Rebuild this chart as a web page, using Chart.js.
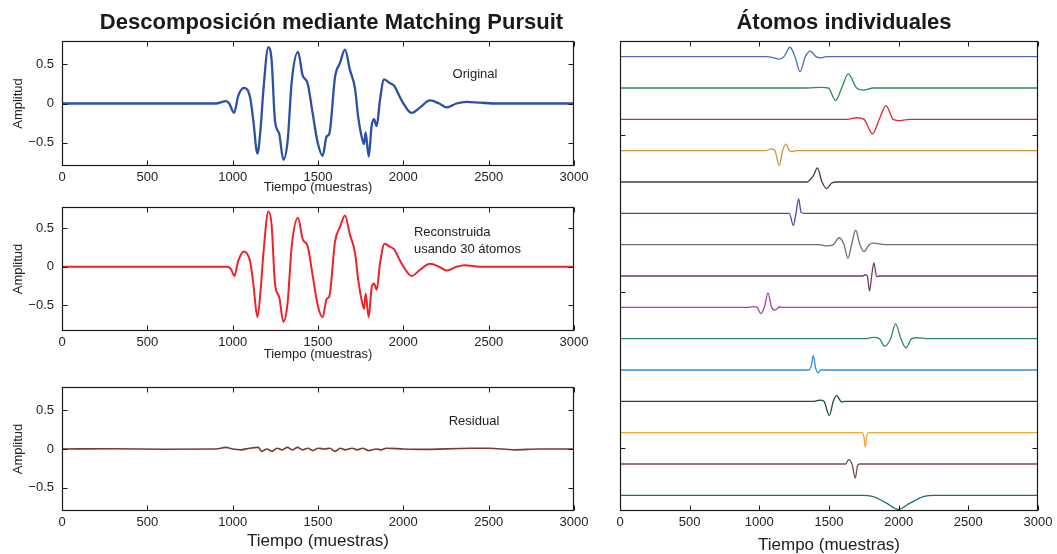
<!DOCTYPE html>
<html>
<head>
<meta charset="utf-8">
<script src="https://cdn.jsdelivr.net/npm/chart.js@4.4.0/dist/chart.umd.min.js"></script>
<style>
  html, body { margin: 0; padding: 0; background: #fff; overflow: hidden; width: 1057px; height: 554px; }
  canvas { position: absolute; }
</style>
</head>
<body>
<canvas id="chartOriginal" width="664" height="200" style="left:0;top:0"></canvas>
<canvas id="chartRecon" width="664" height="161" style="left:0;top:200px"></canvas>
<canvas id="chartResidual" width="664" height="184" style="left:0;top:370px"></canvas>
<canvas id="chartAtoms" width="470" height="554" style="left:600px;top:0"></canvas>
<script>
// ====== Data ======
const timeTicks = [0, 500, 1000, 1500, 2000, 2500, 3000];
const ampTicks = [-0.5, 0, 0.5];
const atomTicks = [-12.5, -7.5, -2.5];

// [time, amplitude]
const originalSignal = [
  [0, 0], [900, 0], [961, 0.03], [980, 0], [1008, -0.12], [1033, 0.10], [1066, 0.20],
  [1102, 0.08], [1121, -0.22], [1145, -0.64], [1164, -0.31], [1180, 0.17], [1209, 0.72],
  [1228, 0.56], [1248, -0.22], [1273, -0.39], [1297, -0.72], [1322, -0.48], [1346, 0.28],
  [1383, 0.66], [1410, 0.36], [1439, 0.26], [1469, -0.13], [1498, -0.50], [1527, -0.67],
  [1551, -0.42], [1566, -0.39], [1600, 0.34], [1629, 0.52], [1658, 0.69], [1687, 0.43],
  [1717, 0.19], [1736, -0.18], [1762, -0.48], [1770, -0.52], [1779, -0.37], [1797, -0.68],
  [1814, -0.29], [1828, -0.20], [1844, -0.29], [1863, 0.04], [1887, 0.31], [1922, 0.26],
  [1945, 0.23], [1990, 0.04], [2049, -0.12], [2098, -0.05], [2156, 0.04], [2210, 0],
  [2254, -0.05], [2312, 0], [2370, 0.02], [2450, 0.01], [2550, 0], [3000, 0]
];

const reconstructed = [
  [0, 0], [970, 0], [990, -0.03], [1010, -0.12], [1033, 0.08], [1066, 0.20],
  [1102, 0.07], [1121, -0.22], [1145, -0.66], [1164, -0.30], [1180, 0.17], [1209, 0.72],
  [1228, 0.55], [1248, -0.22], [1273, -0.40], [1297, -0.72], [1322, -0.47], [1346, 0.27],
  [1383, 0.64], [1410, 0.36], [1439, 0.27], [1469, -0.12], [1498, -0.50], [1527, -0.66],
  [1551, -0.42], [1566, -0.39], [1600, 0.33], [1629, 0.52], [1658, 0.67], [1687, 0.42],
  [1717, 0.18], [1736, -0.18], [1762, -0.50], [1770, -0.55], [1779, -0.35], [1797, -0.66],
  [1814, -0.28], [1828, -0.22], [1844, -0.30], [1863, 0.04], [1890, 0.30], [1922, 0.26],
  [1945, 0.23], [1990, 0.04], [2049, -0.12], [2098, -0.04], [2156, 0.04], [2210, 0],
  [2254, -0.05], [2312, 0], [2360, 0.02], [2450, 0], [3000, 0]
];

const residual = [
  [0, 0], [300, 0.003], [600, -0.003], [900, 0], [960, 0.02], [1000, 0], [1050, -0.01],
  [1100, 0.01], [1150, 0.02], [1170, -0.03], [1200, 0], [1230, -0.03], [1260, 0.01],
  [1290, -0.01], [1320, 0.02], [1350, -0.01], [1380, 0.02], [1410, -0.01], [1440, 0.01],
  [1470, -0.02], [1500, 0.01], [1540, 0], [1570, 0.01], [1600, -0.03], [1630, 0.01],
  [1660, -0.01], [1700, 0.01], [1730, -0.01], [1760, 0.01], [1800, -0.02], [1840, 0],
  [1870, -0.01], [1900, 0.01], [2000, 0], [2100, -0.005], [2400, 0.01], [2500, 0.01],
  [2650, -0.01], [2800, 0], [3000, 0]
];

// individual atoms, top to bottom
const atom01 = [[0, 0], [1050, 0], [1090, -0.02], [1143, -0.08], [1177, 0], [1220, 0.30], [1256, 0], [1292, -0.48], [1330, 0], [1366, 0.18], [1407, 0], [1435, -0.04], [1483, 0], [3000, 0]];
const atom02 = [[0, 0], [1340, 0], [1447, 0.02], [1495, 0], [1548, -0.40], [1591, 0], [1638, 0.45], [1698, 0], [1746, -0.07], [1818, 0], [3000, 0]];
const atom03 = [[0, 0], [1626, 0], [1698, 0.05], [1751, 0], [1813, -0.46], [1861, 0], [1909, 0.44], [1961, 0], [2009, -0.04], [2081, 0], [3000, 0]];
const atom04 = [[0, 0], [1041, 0], [1088, 0.06], [1112, 0], [1143, -0.48], [1167, 0], [1191, 0.21], [1215, 0], [1232, -0.03], [1268, 0], [3000, 0]];
const atom05 = [[0, 0], [1340, 0], [1390, 0.22], [1416, 0.45], [1450, 0], [1483, -0.21], [1520, -0.03], [1555, 0], [3000, 0]];
const atom06 = [[0, 0], [1215, 0], [1244, -0.39], [1263, 0], [1282, 0.46], [1300, 0.03], [1320, 0], [3000, 0]];
const atom07 = [[0, 0], [1428, 0], [1483, -0.04], [1531, 0], [1572, 0.22], [1608, 0], [1636, -0.44], [1662, 0], [1691, 0.46], [1722, 0], [1751, -0.22], [1789, 0], [1823, 0.05], [1901, 0], [3000, 0]];
const atom08 = [[0, 0], [1741, 0], [1760, 0.04], [1775, 0], [1791, -0.48], [1806, 0], [1822, 0.42], [1842, -0.02], [1861, 0], [3000, 0]];
const atom09 = [[0, 0], [909, 0], [957, 0.02], [985, 0], [1010, -0.20], [1036, 0], [1062, 0.46], [1088, 0], [1112, -0.09], [1143, 0.01], [1172, 0], [3000, 0]];
const atom10 = [[0, 0], [1758, 0], [1818, 0.04], [1861, 0], [1901, -0.24], [1942, 0], [1978, 0.47], [2016, 0], [2052, -0.29], [2093, 0], [2129, 0.03], [2200, 0], [3000, 0]];
const atom11 = [[0, 0], [1355, 0], [1373, 0.14], [1387, 0.46], [1403, 0.08], [1421, -0.09], [1440, 0], [3000, 0]];
const atom12 = [[0, 0], [1392, 0], [1435, 0.04], [1464, 0], [1502, -0.45], [1531, 0], [1555, 0.18], [1591, -0.02], [1614, 0], [3000, 0]];
const atom13 = [[0, 0], [1738, 0], [1750, -0.12], [1760, -0.46], [1770, -0.12], [1782, 0], [3000, 0]];
const atom14 = [[0, 0], [1620, 0], [1641, 0.14], [1665, 0], [1689, -0.45], [1705, -0.05], [1720, 0], [3000, 0]];
const atom15 = [[0, 0], [1732, 0], [1818, -0.04], [1913, -0.25], [1997, -0.45], [2081, -0.25], [2177, -0.04], [2260, 0], [3000, 0]];

const atoms = [atom01, atom02, atom03, atom04, atom05, atom06, atom07, atom08,
               atom09, atom10, atom11, atom12, atom13, atom14, atom15];
const atomColors = ["#4b6dc0", "#2b8b52", "#e8262a", "#c9973f", "#4d3838", "#5b3fa3", "#6e6e6e", "#6e3a6e",
                    "#a63ea6", "#2e8d5e", "#2f8fe0", "#1f4d38", "#f9a430", "#7b4a4a", "#1f6b6b"];

// ====== Fonts ======
const FONT = "'Liberation Sans', Arial, Helvetica, sans-serif";
Chart.defaults.font.family = FONT;
Chart.defaults.color = "#222";

// ====== Plugins ======
// MATLAB style box with inward tick marks on every side
const frameTicks = {
  id: "frameTicks",
  afterDatasetsDraw(chart, args, opts) {
    const { ctx, chartArea: a, scales } = chart;
    const len = opts.len || 5;
    const L = Math.round(a.left) + 0.5, R = Math.round(a.right) - 0.5;
    const T = Math.round(a.top) + 0.5, B = Math.round(a.bottom) - 0.5;
    ctx.save();
    ctx.strokeStyle = "#1a1a1a";
    ctx.lineWidth = 1;
    ctx.beginPath();
    scales.x.ticks.forEach(t => {
      const px = Math.round(scales.x.getPixelForValue(t.value)) + 0.5;
      ctx.moveTo(px, B); ctx.lineTo(px, B - len);
      ctx.moveTo(px, T); ctx.lineTo(px, T + len);
    });
    scales.y.ticks.forEach(t => {
      const py = Math.round(scales.y.getPixelForValue(t.value)) + 0.5;
      ctx.moveTo(L, py); ctx.lineTo(L + len, py);
      ctx.moveTo(R, py); ctx.lineTo(R - len, py);
    });
    ctx.stroke();
    ctx.lineWidth = 1.2;
    ctx.strokeRect(L, T, R - L, B - T);
    ctx.restore();
  }
};

// text labels inside the axes, placed in data units
const noteText = {
  id: "noteText",
  afterDatasetsDraw(chart, args, opts) {
    if (!opts.lines) return;
    const { ctx, scales } = chart;
    ctx.save();
    ctx.font = "13px " + FONT;
    ctx.fillStyle = "#222";
    ctx.textAlign = opts.align || "center";
    ctx.textBaseline = "middle";
    opts.lines.forEach(l => {
      ctx.fillText(l.text, scales.x.getPixelForValue(l.x), scales.y.getPixelForValue(l.y));
    });
    ctx.restore();
  }
};

function fmtTick(v) {
  return v < 0 ? "\u2212" + Math.abs(v) : String(v);
}

function toXY(pairs, offset) {
  return pairs.map(([x, y]) => ({ x: x, y: y + (offset || 0) }));
}

// empty right-hand axis, only used to reserve room so the title sits where it does in the figure
function spacerAxis(width) {
  return {
    position: "right",
    display: true,
    ticks: { display: false },
    grid: { display: false, drawTicks: false },
    border: { display: false },
    afterFit: s => { s.width = width; }
  };
}

// ====== Left panels ======
function signalChart(id, series, color, width, cfg) {
  new Chart(document.getElementById(id), {
    type: "line",
    data: {
      datasets: [{
        data: toXY(series),
        borderColor: color,
        borderWidth: width,
        pointRadius: 0,
        cubicInterpolationMode: "monotone",
        fill: false
      }]
    },
    options: {
      responsive: false,
      animation: false,
      events: [],
      layout: { padding: { left: 10, right: 11, top: cfg.padTop, bottom: cfg.padBottom } },
      plugins: {
        legend: { display: false },
        tooltip: { enabled: false },
        title: cfg.title ? {
          display: true,
          text: cfg.title,
          font: { size: 22, weight: "bold", lineHeight: 1 },
          color: "#1a1a1a",
          padding: { top: 12, bottom: 7 }
        } : { display: false },
        frameTicks: { len: 5 },
        noteText: cfg.notes
      },
      scales: {
        x: {
          type: "linear",
          min: 0,
          max: 3000,
          afterBuildTicks: s => { s.ticks = timeTicks.map(v => ({ value: v })); },
          afterFit: s => { s.height = cfg.xAxisH; },
          ticks: { padding: 4, font: { size: 13 }, maxRotation: 0, autoSkip: false, callback: fmtTick },
          grid: { display: false, drawTicks: false },
          border: { display: false },
          title: { display: true, text: "Tiempo (muestras)", font: { size: cfg.xTitleSize, lineHeight: 1 }, padding: 0 }
        },
        y: {
          type: "linear",
          min: cfg.yMin,
          max: cfg.yMax,
          afterBuildTicks: s => { s.ticks = ampTicks.map(v => ({ value: v })); },
          afterFit: s => { s.width = 52; s.paddingTop = 0; s.paddingBottom = 0; },
          ticks: { padding: 8, font: { size: 13 }, callback: fmtTick },
          grid: { display: false, drawTicks: false },
          border: { display: false },
          title: { display: true, text: "Amplitud", font: { size: 13, lineHeight: 1 }, padding: { top: 2, bottom: 0 } }
        },
        yr: spacerAxis(79)
      }
    },
    plugins: [frameTicks, noteText]
  });
}

signalChart("chartOriginal", originalSignal, "#2f4fa6", 2.3, {
  title: "Descomposición mediante Matching Pursuit",
  padTop: 0, padBottom: 6, xAxisH: 28, xTitleSize: 13, yMin: -0.8, yMax: 0.8,
  notes: { align: "center", lines: [{ text: "Original", x: 2420, y: 0.37 }] }
});

signalChart("chartRecon", reconstructed, "#ee2229", 2, {
  padTop: 7, padBottom: 0.5, xAxisH: 29.5, xTitleSize: 13, yMin: -0.84, yMax: 0.78,
  notes: { align: "left", lines: [
    { text: "Reconstruida", x: 2062, y: 0.45 },
    { text: "usando 30 átomos", x: 2062, y: 0.23 }
  ] }
});

signalChart("chartResidual", residual, "#7a3a3a", 1.7, {
  padTop: 17, padBottom: 4.5, xAxisH: 38.5, xTitleSize: 17, yMin: -0.8, yMax: 0.8,
  notes: { align: "center", lines: [{ text: "Residual", x: 2414, y: 0.355 }] }
});

// ====== Right panel: stacked atoms ======
new Chart(document.getElementById("chartAtoms"), {
  type: "line",
  data: {
    datasets: atoms.map((a, i) => ({
      data: toXY(a, -i),
      borderColor: atomColors[i],
      borderWidth: 1.3,
      pointRadius: 0,
      cubicInterpolationMode: "monotone",
      fill: false
    }))
  },
  options: {
    responsive: false,
    animation: false,
    events: [],
    layout: { padding: { left: 20, right: 2, top: 0, bottom: 0.5 } },
    plugins: {
      legend: { display: false },
      tooltip: { enabled: false },
      title: {
        display: true,
        text: "Átomos individuales",
        font: { size: 22, weight: "bold", lineHeight: 1 },
        color: "#1a1a1a",
        padding: { top: 12, bottom: 7 }
      },
      frameTicks: { len: 5 }
    },
    scales: {
      x: {
        type: "linear",
        min: 0,
        max: 3000,
        afterBuildTicks: s => { s.ticks = timeTicks.map(v => ({ value: v })); },
        afterFit: s => { s.height = 42.5; },
        ticks: { padding: 4, font: { size: 13 }, maxRotation: 0, autoSkip: false, callback: fmtTick },
        grid: { display: false, drawTicks: false },
        border: { display: false },
        title: { display: true, text: "Tiempo (muestras)", font: { size: 17, lineHeight: 1 }, padding: 0 }
      },
      y: {
        type: "linear",
        min: -14.5,
        max: 0.5,
        afterBuildTicks: s => { s.ticks = atomTicks.map(v => ({ value: v })); },
        afterFit: s => { s.width = 0; s.paddingTop = 0; s.paddingBottom = 0; },
        ticks: { display: false },
        grid: { display: false, drawTicks: false },
        border: { display: false }
      },
      yr: spacerAxis(30)
    }
  },
  plugins: [frameTicks]
});
</script>
</body>
</html>
